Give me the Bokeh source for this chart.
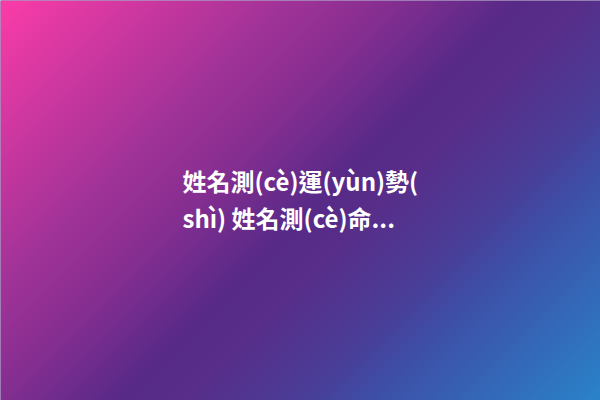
import numpy as np
from bokeh.plotting import figure
from bokeh.models import Range1d
from bokeh.core.properties import value
from bokeh.embed import file_html
from bokeh.resources import INLINE

# gradient stops along the top-left -> bottom-right diagonal (t = (x+y)/1000)
stop_pos = [0.0, 0.29, 0.38, 0.52, 0.58, 0.70, 0.77, 1.0]
stop_col = ["#fb3ca8", "#a03398", "#8a2f92", "#572a88", "#582e8a", "#4a3e98", "#3e50a8", "#2a84ca"]

lines = ["姓名測(cè)運(yùn)勢(", "shì) 姓名測(cè)命..."]
line_x = [182, 182]
line_y = [180, 217]

W, H = 600, 400

def hex2rgb(h):
    h = h.lstrip("#")
    return [int(h[i:i + 2], 16) for i in (0, 2, 4)]

rgb = np.array([hex2rgb(c) for c in stop_col], dtype=float)
yy, xx = np.mgrid[0:H, 0:W]
t = (xx + yy) / float(W + H)
r = np.interp(t, stop_pos, rgb[:, 0])
g = np.interp(t, stop_pos, rgb[:, 1])
b = np.interp(t, stop_pos, rgb[:, 2])
img = np.empty((H, W), dtype=np.uint32)
view = img.view(dtype=np.uint8).reshape((H, W, 4))
view[:, :, 0] = r.astype(np.uint8)
view[:, :, 1] = g.astype(np.uint8)
view[:, :, 2] = b.astype(np.uint8)
view[:, :, 3] = 255

p = figure(width=600, height=400, x_range=Range1d(0, 600), y_range=Range1d(400, 0),
           toolbar_location=None, output_backend="svg", min_border=0)
p.axis.visible = False
p.grid.visible = False
p.outline_line_color = None
p.background_fill_color = "#553088"
p.border_fill_color = "#553088"

p.image_rgba(image=[img], x=0, y=0, dw=W, dh=H)

p.text(x=line_x, y=line_y, text=lines, text_color="#ffffff",
       text_font=value("Noto Sans CJK TC"), text_font_style="bold",
       text_font_size="24px", text_align="left", text_baseline="middle")

open("out.html", "w").write(file_html(p, INLINE))
